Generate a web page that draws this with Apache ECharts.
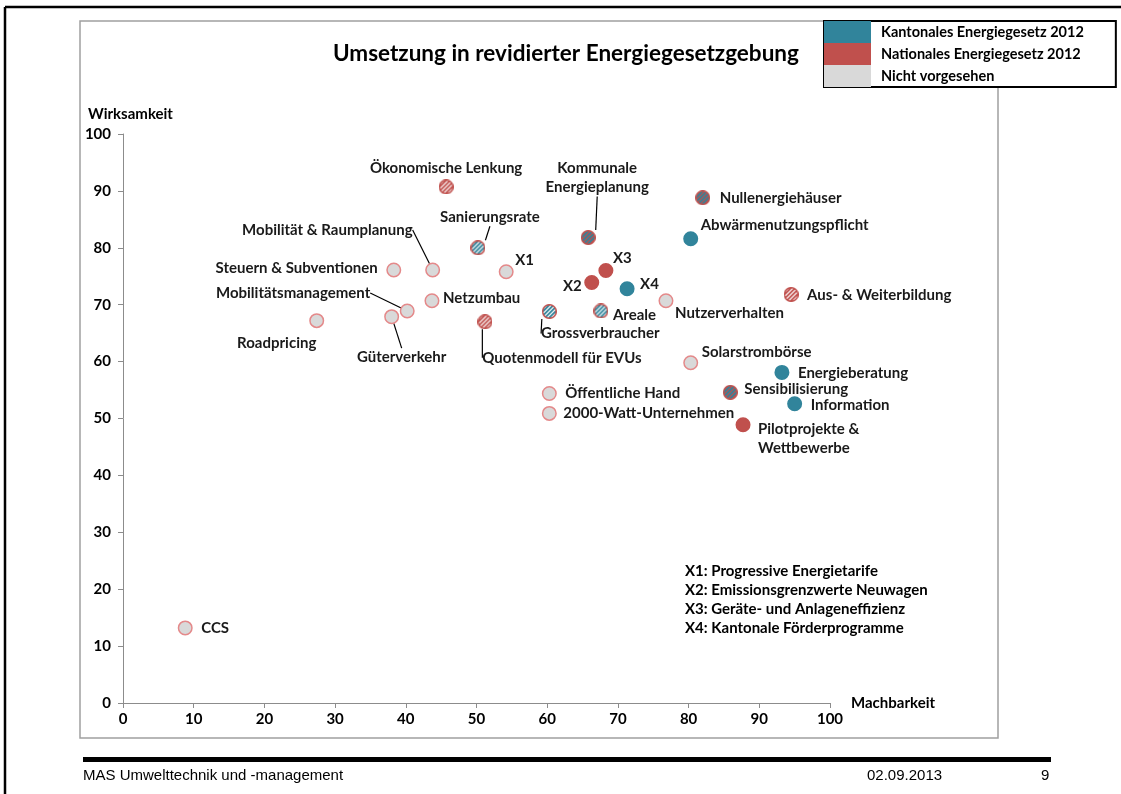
<!DOCTYPE html>
<html>
<head>
<meta charset="utf-8">
<script src="https://cdn.jsdelivr.net/npm/echarts@6/dist/echarts.min.js"></script>
<style>
html, body { margin: 0; padding: 0; background: #fff; }
#chart { width: 1121px; height: 794px; }
</style>
</head>
<body>
<div id="chart"></div>
<script>
// Massnahmen (Name), Machbarkeit (x), Wirksamkeit (y), Umsetzung (Gruppe)
var names = [
	'Ökonomische Lenkung', 'Kommunale\nEnergieplanung', 'Sanierungsrate', 'X1',
	'Steuern & Subventionen', 'Mobilität & Raumplanung', 'Netzumbau', 'Mobilitätsmanagement',
	'Güterverkehr', 'Roadpricing', 'Quotenmodell für EVUs', 'Grossverbraucher',
	'Areale', 'X2', 'X3', 'X4',
	'Nutzerverhalten', 'Nullenergiehäuser', 'Abwärmenutzungspflicht', 'Aus- & Weiterbildung',
	'Solarstrombörse', 'Energieberatung', 'Sensibilisierung', 'Information',
	'Pilotprojekte &\nWettbewerbe', 'Öffentliche Hand', '2000-Watt-Unternehmen', 'CCS'
];
var machbarkeit = [
	45.7, 65.8, 50.2, 54.2,
	38.3, 43.8, 43.7, 40.2,
	38.0, 27.4, 51.2, 60.3,
	67.6, 66.3, 68.3, 71.3,
	76.8, 82.0, 80.3, 94.5,
	80.3, 93.2, 85.9, 95.0,
	87.7, 60.3, 60.3, 8.8
];
var wirksamkeit = [
	90.7, 81.8, 80.0, 75.8,
	76.1, 76.1, 70.7, 68.9,
	67.9, 67.2, 67.0, 68.8,
	68.9, 73.9, 76.0, 72.8,
	70.7, 88.8, 81.6, 71.8,
	59.8, 58.1, 54.6, 52.6,
	48.9, 54.4, 50.9, 13.2
];
// K = kantonal, N = national, O = nicht vorgesehen, *T = teilweise, KN = beides
var gruppe = [
	'NT', 'KN', 'KT', 'O',
	'O', 'O', 'O', 'O',
	'O', 'O', 'NT', 'KT',
	'KT', 'N', 'N', 'K',
	'O', 'KN', 'K', 'NT',
	'O', 'K', 'KN', 'K',
	'N', 'O', 'O', 'O'
];
var axisTicks = [0, 10, 20, 30, 40, 50, 60, 70, 80, 90, 100];
var fussnoten = [
	'X1: Progressive Energietarife',
	'X2: Emissionsgrenzwerte Neuwagen',
	'X3: Geräte- und Anlageneffizienz',
	'X4: Kantonale Förderprogramme'
];

var TEAL = '#31849b', RED = '#c0504d', GREY = '#d9d9d9', PINK = '#e4898a';
var FONT = 'Lato, "Open Sans", sans-serif';
var SYMBOL = 15;

// schraffierter kreis als bild-symbol
function hatched(bg, fg, border) {
	var k = 4, s = SYMBOL * k, r = s / 2, c = document.createElement('canvas');
	c.width = s; c.height = s;
	var g = c.getContext('2d');
	g.save();
	g.beginPath(); g.arc(r, r, r - 1.5 * k / 2, 0, Math.PI * 2); g.clip();
	g.fillStyle = bg; g.fillRect(0, 0, s, s);
	g.strokeStyle = fg; g.lineWidth = 1.8 * k;
	g.beginPath();
	for (var d = -s; d < 2 * s; d += 4.2 * k) {
		g.moveTo(d, s); g.lineTo(d + s, 0);
	}
	g.stroke();
	g.restore();
	g.beginPath(); g.arc(r, r, r - 1.5 * k / 2, 0, Math.PI * 2);
	g.strokeStyle = border; g.lineWidth = 1.5 * k; g.stroke();
	return 'image://' + c.toDataURL();
}

var gruppen = {
	K:  { name: 'Kantonales Energiegesetz 2012', symbol: 'circle', color: TEAL, border: TEAL },
	N:  { name: 'Nationales Energiegesetz 2012', symbol: 'circle', color: RED, border: RED },
	O:  { name: 'Nicht vorgesehen', symbol: 'circle', color: GREY, border: PINK },
	NT: { name: 'National teilweise', symbol: hatched('#fff', RED, RED), color: RED, border: RED },
	KT: { name: 'Kantonal teilweise', symbol: hatched('#fff', TEAL, RED), color: TEAL, border: RED },
	KN: { name: 'Kantonal und national', symbol: hatched(RED, TEAL, RED), color: RED, border: RED }
};

// beschriftung: [dx, dy, ausrichtung, hinweislinie]
var beschriftung = {
	'Ökonomische Lenkung': [0, -19, 'center'],
	'Kommunale\nEnergieplanung': [9, -60, 'center', true],
	'Sanierungsrate': [12, -31, 'center', true],
	'X1': [9, -12, 'left'],
	'Steuern & Subventionen': [-16, -2, 'right'],
	'Mobilität & Raumplanung': [-20, -40, 'right', true],
	'Netzumbau': [11, -3, 'left'],
	'Mobilitätsmanagement': [-37, -18, 'right', true],
	'Güterverkehr': [10, 41, 'center', true],
	'Roadpricing': [-40, 23, 'center'],
	'Quotenmodell für EVUs': [77, 36, 'center', true],
	'Grossverbraucher': [51, 22, 'center', true],
	'Areale': [12, 4, 'left'],
	'X2': [-10, 4, 'right'],
	'X3': [7, -12, 'left'],
	'X4': [13, -5, 'left'],
	'Nutzerverhalten': [9, 12, 'left'],
	'Nullenergiehäuser': [17, 0, 'left'],
	'Abwärmenutzungspflicht': [10, -14, 'left'],
	'Aus- & Weiterbildung': [16, 1, 'left'],
	'Solarstrombörse': [11, -11, 'left'],
	'Energieberatung': [16, 1, 'left'],
	'Sensibilisierung': [14, -3, 'left'],
	'Information': [16, 1, 'left'],
	'Pilotprojekte &\nWettbewerbe': [15, 14, 'left'],
	'Öffentliche Hand': [16, 0, 'left'],
	'2000-Watt-Unternehmen': [14, 0, 'left'],
	'CCS': [16, 0, 'left']
};

var chart = echarts.init(document.getElementById('chart'));

// serien je gruppe
var order = ['K', 'N', 'O', 'NT', 'KT', 'KN'];
var series = order.map(function (key) {
	var g = gruppen[key], data = [];
	names.forEach(function (n, i) {
		if (gruppe[i] !== key) return;
		var b = beschriftung[n];
		data.push({
			name: n,
			value: [machbarkeit[i], wirksamkeit[i]],
			label: { offset: [b[0], b[1]], align: b[2] },
			labelLine: { show: !!b[3] }
		});
	});
	return {
		name: g.name,
		type: 'scatter',
		symbol: g.symbol,
		symbolSize: g.symbol === 'circle' ? SYMBOL - 1.5 : SYMBOL,
		itemStyle: { color: g.color, borderColor: g.border, borderWidth: 1.5, opacity: 1 },
		emphasis: { disabled: true },
		label: {
			show: true,
			position: 'inside',
			formatter: '{b}',
			color: '#1a1a1a',
			fontFamily: FONT,
			fontWeight: 'bold',
			fontSize: 15,
			lineHeight: 19,
			verticalAlign: 'middle',
			textBorderWidth: 0
		},
		labelLine: { show: false, lineStyle: { color: '#000', width: 1.2 } },
		data: data
	};
});

var axisLabelStyle = { color: '#000', fontFamily: FONT, fontWeight: 'bold', fontSize: 15 };
var footFont = '15px "Liberation Sans", Arial, sans-serif';

chart.setOption({
	animation: false,
	backgroundColor: '#fff',
	grid: { left: 123, right: 291, top: 134, bottom: 91 },
	legend: {
		data: [
			{ name: gruppen.K.name, itemStyle: { color: TEAL, borderWidth: 0 } },
			{ name: gruppen.N.name, itemStyle: { color: RED, borderWidth: 0 } },
			{ name: gruppen.O.name, itemStyle: { color: GREY, borderWidth: 0 } }
		],
		orient: 'vertical',
		left: 824,
		top: 21,
		icon: 'rect',
		itemWidth: 47,
		itemHeight: 22,
		itemGap: 0,
		padding: [0, 32, 0, 0],
		borderColor: '#000',
		borderWidth: 2,
		backgroundColor: '#fff',
		selectedMode: false,
		textStyle: { color: '#000', fontFamily: FONT, fontWeight: 'bold', fontSize: 14.5, padding: [0, 0, 0, 5] }
	},
	xAxis: {
		type: 'value', min: axisTicks[0], max: axisTicks[axisTicks.length - 1], interval: 10,
		name: 'Machbarkeit', nameLocation: 'end', nameGap: 21,
		nameTextStyle: { color: '#000', fontFamily: FONT, fontWeight: 'bold', fontSize: 15, verticalAlign: 'middle' },
		splitLine: { show: false },
		axisLine: { lineStyle: { color: '#8c8c8c', width: 1 } },
		axisTick: { show: true, length: 5, lineStyle: { color: '#8c8c8c' } },
		axisLabel: Object.assign({ margin: 9 }, axisLabelStyle)
	},
	yAxis: {
		type: 'value', min: axisTicks[0], max: axisTicks[axisTicks.length - 1], interval: 10,
		splitLine: { show: false },
		axisLine: { show: true, lineStyle: { color: '#8c8c8c', width: 1 } },
		axisTick: { show: true, length: 5, lineStyle: { color: '#8c8c8c' } },
		axisLabel: Object.assign({ margin: 12 }, axisLabelStyle)
	},
	graphic: [
		// folienrahmen
		{ type: 'line', z: 0, shape: { x1: 5, y1: 7, x2: 5, y2: 794 }, style: { stroke: '#000', lineWidth: 2.5 } },
		{ type: 'line', z: 0, shape: { x1: 5, y1: 7, x2: 1121, y2: 7 }, style: { stroke: '#000', lineWidth: 2.5 } },
		// diagrammrahmen
		{ type: 'rect', z: 0, shape: { x: 80, y: 21, width: 918, height: 717 }, style: { fill: null, stroke: '#a0a0a0', lineWidth: 1.5 } },
		{ type: 'text', z: 5, left: 333, top: 42,
			style: { text: 'Umsetzung in revidierter Energiegesetzgebung', fill: '#000', font: 'bold 22.5px ' + FONT } },
		{ type: 'text', z: 5, left: 88, top: 107,
			style: { text: 'Wirksamkeit', fill: '#000', font: 'bold 15px ' + FONT } },
		{ type: 'text', z: 5, left: 685, top: 562,
			style: { text: fussnoten.join('\n'), fill: '#000', font: 'bold 15px ' + FONT, lineHeight: 19 } },
		// fusszeile
		{ type: 'rect', z: 0, shape: { x: 83, y: 757, width: 968, height: 5 }, style: { fill: '#000' } },
		{ type: 'text', z: 5, left: 83, top: 768,
			style: { text: 'MAS Umwelttechnik und -management', fill: '#000', font: footFont } },
		{ type: 'text', z: 5, left: 867, top: 768,
			style: { text: '02.09.2013', fill: '#000', font: footFont } },
		{ type: 'text', z: 5, left: 1041, top: 768,
			style: { text: '9', fill: '#000', font: footFont } }
	],
	series: series
});
</script>
</body>
</html>
